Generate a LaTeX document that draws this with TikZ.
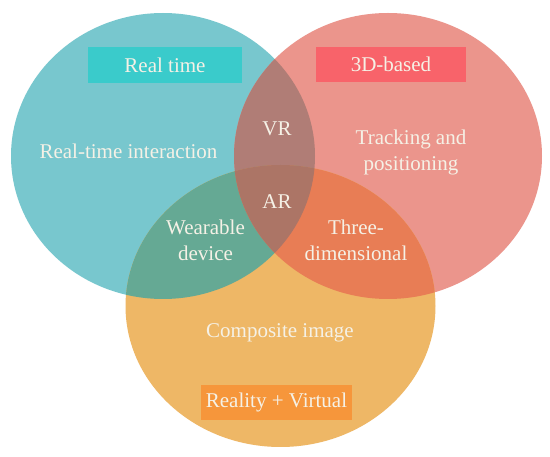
\documentclass[tikz,border=0pt]{standalone}
\usepackage{fontspec}
\setmainfont{Liberation Serif}
\definecolor{tealc}{HTML}{78C7CE}
\definecolor{redc}{HTML}{EB958C}
\definecolor{orangec}{HTML}{EEB766}
\definecolor{tealred}{HTML}{B07D76}
\definecolor{tealorange}{HTML}{65A994}
\definecolor{redorange}{HTML}{E87D55}
\definecolor{allthree}{HTML}{AC7566}
\definecolor{rtbox}{HTML}{3ACBCB}
\definecolor{tdbox}{HTML}{F8636A}
\definecolor{rvbox}{HTML}{F6963B}
\definecolor{txt}{HTML}{F5F1E6}
\tikzset{
  lbl/.style={text=txt, font=\fontsize{21}{26}\selectfont, align=center, inner sep=0pt},
  tagbox/.style={lbl, minimum height=35pt},
}
\begin{document}
\begin{tikzpicture}[x=1pt,y=-1pt]
\useasboundingbox (0,0) rectangle (550,457);
\fill[white] (0,0) rectangle (550,457);
% circles
\fill[tealc] (163,156) ellipse [x radius=152pt, y radius=143pt];
\fill[redc] (388,156) ellipse [x radius=154pt, y radius=143pt];
\fill[orangec] (280.5,306) ellipse [x radius=155pt, y radius=141pt];
% overlaps
\begin{scope}
  \clip (163,156) ellipse [x radius=152pt, y radius=143pt];
  \fill[tealred] (388,156) ellipse [x radius=154pt, y radius=143pt];
\end{scope}
\begin{scope}
  \clip (163,156) ellipse [x radius=152pt, y radius=143pt];
  \fill[tealorange] (280.5,306) ellipse [x radius=155pt, y radius=141pt];
\end{scope}
\begin{scope}
  \clip (388,156) ellipse [x radius=154pt, y radius=143pt];
  \fill[redorange] (280.5,306) ellipse [x radius=155pt, y radius=141pt];
\end{scope}
\begin{scope}
  \clip (163,156) ellipse [x radius=152pt, y radius=143pt];
  \clip (388,156) ellipse [x radius=154pt, y radius=143pt];
  \fill[allthree] (280.5,306) ellipse [x radius=155pt, y radius=141pt];
\end{scope}
% tag boxes
\node[tagbox, fill=rtbox, minimum width=154pt, minimum height=36pt] (realtime) at (165,65) {Real time};
\node[tagbox, fill=tdbox, minimum width=150pt] (threed) at (391,64.5) {3D-based};
\node[tagbox, fill=rvbox, minimum width=151pt] (rv) at (276.5,402.5) {Reality + Virtual};
% region labels
\node[lbl] (rti) at (128.5,151) {Real-time interaction};
\node[lbl] (vr) at (277,129) {VR};
\node[lbl] (track) at (411,152) {Tracking and\\positioning};
\node[lbl] (ar) at (277,202) {AR};
\node[lbl] (wear) at (205.5,240.5) {Wearable\\device};
\node[lbl] (three) at (356,240.5) {Three-\\dimensional};
\node[lbl] (comp) at (280,333) {Composite image};
\end{tikzpicture}
\end{document}
